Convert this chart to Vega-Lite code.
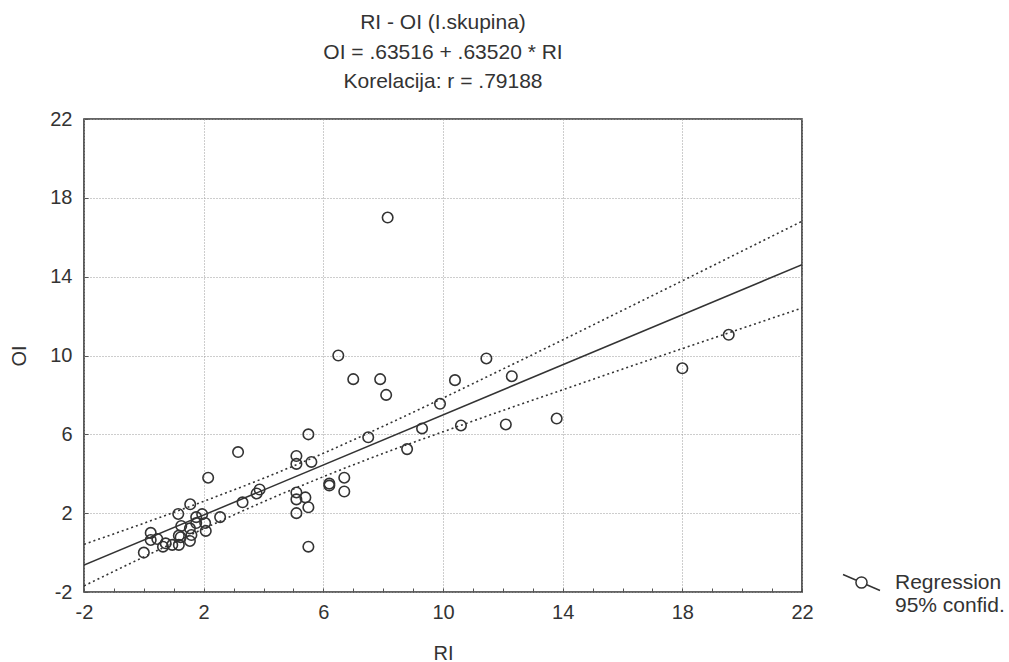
{
  "$schema": "https://vega.github.io/schema/vega-lite/v6.json",
  "width": 718,
  "height": 473,
  "autosize": {"type": "none"},
  "padding": {"left": 84, "top": 119, "right": 207, "bottom": 70},
  "background": "white",
  "title": {
    "text": ["RI - OI (I.skupina)", "OI = .63516 + .63520 * RI", "Korelacija: r = .79188"],
    "anchor": "middle",
    "frame": "group",
    "font": "Liberation Sans",
    "fontSize": 21,
    "fontWeight": "normal",
    "color": "#333333",
    "lineHeight": 29.5,
    "offset": 17
  },
  "config": {
    "view": {"stroke": "#333333", "strokeWidth": 1.6},
    "axis": {
      "labelFont": "Liberation Sans",
      "labelFontSize": 20,
      "labelColor": "#333333",
      "labelFlush": false,
      "labelOverlap": false,
      "titleFont": "Liberation Sans",
      "titleFontSize": 20,
      "titleFontWeight": "normal",
      "titleColor": "#333333",
      "grid": true,
      "gridColor": "#9a9a9a",
      "gridDash": [1, 2],
      "gridWidth": 1,
      "domain": false,
      "tickColor": "#555555",
      "tickSize": -4,
      "tickWidth": 1
    },
    "legend": {
      "labelFont": "Liberation Sans",
      "labelFontSize": 21,
      "labelColor": "#333333"
    }
  },
  "datasets": {
    "pts": [
      {"RI": 0.0, "OI": 0.0}, {"RI": 0.23, "OI": 1.0}, {"RI": 0.23, "OI": 0.64}, {"RI": 0.45, "OI": 0.69},
      {"RI": 0.73, "OI": 0.47}, {"RI": 0.64, "OI": 0.3}, {"RI": 0.95, "OI": 0.39}, {"RI": 1.17, "OI": 0.39},
      {"RI": 1.23, "OI": 0.78}, {"RI": 1.17, "OI": 0.86}, {"RI": 1.59, "OI": 0.89}, {"RI": 1.54, "OI": 0.59},
      {"RI": 1.25, "OI": 1.35}, {"RI": 1.54, "OI": 1.23}, {"RI": 1.15, "OI": 1.96}, {"RI": 1.55, "OI": 2.45},
      {"RI": 1.75, "OI": 1.8}, {"RI": 1.75, "OI": 1.5}, {"RI": 1.95, "OI": 1.95}, {"RI": 2.05, "OI": 1.5},
      {"RI": 2.07, "OI": 1.1}, {"RI": 2.15, "OI": 3.8}, {"RI": 2.55, "OI": 1.8}, {"RI": 3.15, "OI": 5.1},
      {"RI": 3.3, "OI": 2.55}, {"RI": 3.77, "OI": 3.0}, {"RI": 3.87, "OI": 3.2}, {"RI": 5.1, "OI": 4.9},
      {"RI": 5.1, "OI": 4.5}, {"RI": 5.6, "OI": 4.6}, {"RI": 5.5, "OI": 6.0}, {"RI": 5.1, "OI": 3.05},
      {"RI": 5.1, "OI": 2.7}, {"RI": 5.4, "OI": 2.8}, {"RI": 5.5, "OI": 2.3}, {"RI": 5.1, "OI": 2.0},
      {"RI": 5.5, "OI": 0.3}, {"RI": 6.2, "OI": 3.5}, {"RI": 6.2, "OI": 3.4}, {"RI": 6.7, "OI": 3.8},
      {"RI": 6.7, "OI": 3.1}, {"RI": 6.5, "OI": 10.0}, {"RI": 7.0, "OI": 8.8}, {"RI": 7.9, "OI": 8.8},
      {"RI": 8.1, "OI": 8.0}, {"RI": 8.15, "OI": 17.0}, {"RI": 7.5, "OI": 5.85}, {"RI": 8.8, "OI": 5.25},
      {"RI": 9.3, "OI": 6.3}, {"RI": 9.9, "OI": 7.55}, {"RI": 10.4, "OI": 8.75}, {"RI": 10.6, "OI": 6.45},
      {"RI": 11.45, "OI": 9.85}, {"RI": 12.3, "OI": 8.95}, {"RI": 12.1, "OI": 6.5}, {"RI": 13.8, "OI": 6.8},
      {"RI": 18.0, "OI": 9.35}, {"RI": 19.55, "OI": 11.05}
    ],
    "reg": [
      {"RI": -2, "OI": -0.635, "series": "Regression"},
      {"RI": 22, "OI": 14.609, "series": "Regression"}
    ],
    "band": [
      {"RI": -2, "lo": -1.69, "hi": 0.42},
      {"RI": 0, "lo": -0.22, "hi": 1.49},
      {"RI": 2, "lo": 1.21, "hi": 2.6},
      {"RI": 4, "lo": 2.58, "hi": 3.77},
      {"RI": 6, "lo": 3.85, "hi": 5.04},
      {"RI": 8, "lo": 5.03, "hi": 6.41},
      {"RI": 10, "lo": 6.13, "hi": 7.84},
      {"RI": 12, "lo": 7.21, "hi": 9.31},
      {"RI": 14, "lo": 8.26, "hi": 10.79},
      {"RI": 16, "lo": 9.31, "hi": 12.29},
      {"RI": 18, "lo": 10.35, "hi": 13.79},
      {"RI": 20, "lo": 11.38, "hi": 15.3},
      {"RI": 22, "lo": 12.41, "hi": 16.81}
    ]
  },
  "encoding": {
    "x": {
      "field": "RI", "type": "quantitative",
      "scale": {"domain": [-2, 22], "nice": false, "zero": false},
      "axis": {
        "values": [-2, -1, 0, 1, 2, 3, 4, 5, 6, 7, 8, 9, 10, 11, 12, 13, 14, 15, 16, 17, 18, 19, 20, 21, 22],
        "labelExpr": "(datum.value + 2) % 4 == 0 ? toString(datum.value) : ''",
        "gridOpacity": {"condition": {"test": "(datum.value + 2) % 4 == 0", "value": 1}, "value": 0},
        "title": "RI", "labelPadding": 14, "titlePadding": 21
      }
    }
  },
  "layer": [
    {
      "data": {"name": "band"},
      "mark": {"type": "line", "interpolate": "monotone", "strokeDash": [2, 3], "strokeWidth": 1.6, "color": "#333333", "clip": true},
      "encoding": {
        "y": {"field": "hi", "type": "quantitative",
          "scale": {"domain": [-2, 22], "nice": false, "zero": false},
          "axis": {
            "values": [-2, -1, 0, 1, 2, 3, 4, 5, 6, 7, 8, 9, 10, 11, 12, 13, 14, 15, 16, 17, 18, 19, 20, 21, 22],
            "labelExpr": "(datum.value + 2) % 4 == 0 ? toString(datum.value) : ''",
            "gridOpacity": {"condition": {"test": "(datum.value + 2) % 4 == 0", "value": 1}, "value": 0},
            "title": "OI", "labelPadding": 16, "titlePadding": 20
          }}
      }
    },
    {
      "data": {"name": "band"},
      "mark": {"type": "line", "interpolate": "monotone", "strokeDash": [2, 3], "strokeWidth": 1.6, "color": "#333333", "clip": true},
      "encoding": {
        "y": {"field": "lo", "type": "quantitative"}
      }
    },
    {
      "data": {"name": "reg"},
      "mark": {"type": "line", "strokeWidth": 1.5, "clip": true},
      "encoding": {
        "y": {"field": "OI", "type": "quantitative"},
        "stroke": {
          "field": "series", "type": "nominal",
          "scale": {"range": ["#333333"]},
          "legend": {
            "title": null,
            "orient": "none",
            "legendX": 758,
            "legendY": 444,
            "symbolType": "M -1 -0.43 L -0.28 -0.12 M 0.28 0.12 L 1 0.43 M 0.3 0 A 0.3 0.3 0 1 1 -0.3 0 A 0.3 0.3 0 1 1 0.3 0",
            "symbolSize": 1370,
            "symbolStrokeWidth": 1.5,
            "symbolStrokeColor": "#333333",
            "symbolFillColor": "transparent",
            "labelExpr": "['Regression', '95% confid.']",
            "labelOffset": 14,
            "labelLimit": 200
          }
        }
      }
    },
    {
      "data": {"name": "pts"},
      "mark": {"type": "point", "shape": "circle", "size": 110, "filled": false, "stroke": "#333333", "strokeWidth": 1.6, "opacity": 1},
      "encoding": {
        "y": {"field": "OI", "type": "quantitative"}
      }
    }
  ]
}
